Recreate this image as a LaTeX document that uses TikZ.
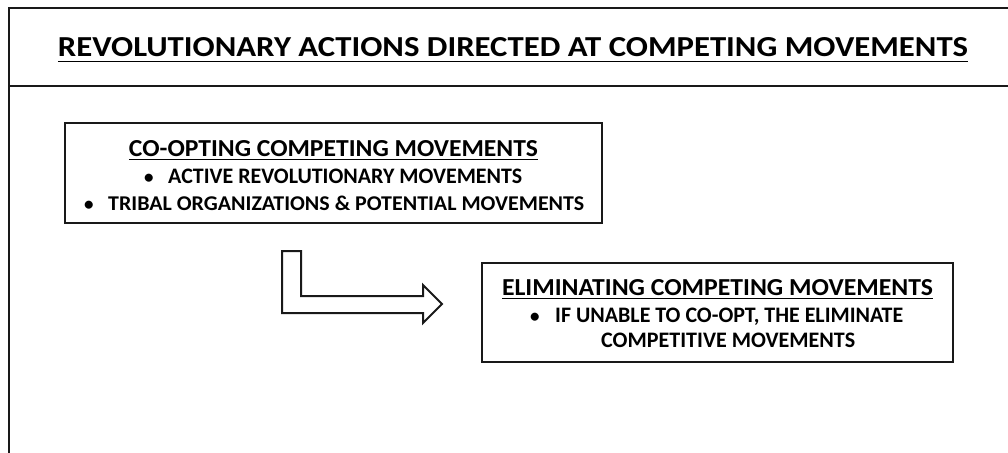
\documentclass[tikz,border=0pt]{standalone}
\usepackage{fontspec}
\setmainfont{Carlito}
\usepackage{graphicx}
\newcommand\fitwh[3]{\resizebox{#1pt}{#2pt}{#3}}
\tikzset{
  frameline/.style={line width=2pt, draw=black!90},
  boxnode/.style={draw=black!90, line width=2pt, inner sep=0pt},
  txt/.style={anchor=base, inner sep=0pt, font=\bfseries},
  bul/.style={anchor=base west, inner sep=0pt, font=\bfseries\fontsize{19}{19}\selectfont},
  blockarrow/.style={draw=black!90, line width=2pt, line join=miter, fill=white},
}
\begin{document}
\begin{tikzpicture}[x=1pt, y=-1pt]
\useasboundingbox (0,0) rectangle (1008,452);
% outer frame
\coordinate (ftl) at (9,8);
\coordinate (ftr) at (1010,8);
\coordinate (fbl) at (9,454);
\coordinate (sl) at (9,86);
\coordinate (sr) at (1010,86);
\draw[frameline] (fbl) -- (ftl) -- (ftr);
\draw[frameline] (sl) -- (sr);
% main title
\node[txt] (title) at (513,57) {\fitwh{910}{19}{\underline{REVOLUTIONARY ACTIONS DIRECTED AT COMPETING MOVEMENTS}}};
% box 1
\node[boxnode, minimum width=537pt, minimum height=100pt] (b1) at (333.5,173) {};
\node[txt] (b1t) at (333.5,156) {\fitwh{409}{16}{\underline{CO-OPTING COMPETING MOVEMENTS}}};
\node[bul] (b1b1) at (144,183) {\textbullet};
\node[txt, anchor=base west] (b1l1) at (168,183) {\fitwh{354}{14.5}{ACTIVE REVOLUTIONARY MOVEMENTS}};
\node[bul] (b1b2) at (84,210) {\textbullet};
\node[txt, anchor=base west] (b1l2) at (108,210) {\fitwh{476}{14.5}{TRIBAL ORGANIZATIONS \& POTENTIAL MOVEMENTS}};
% bent block arrow
\draw[blockarrow] (282,251) -- (301,251) -- (301,296) -- (423,296) -- (423,285)
  -- (442,304) -- (423,323) -- (423,313) -- (282,313) -- cycle;
% box 2
\node[boxnode, minimum width=471pt, minimum height=99pt] (b2) at (717.5,312.5) {};
\node[txt] (b2t) at (717.5,295) {\fitwh{431}{16}{\underline{ELIMINATING COMPETING MOVEMENTS}}};
\node[bul] (b2b1) at (530,322) {\textbullet};
\node[txt, anchor=base west] (b2l1) at (555,322) {\fitwh{348}{14.5}{IF UNABLE TO CO-OPT, THE ELIMINATE}};
\node[txt, anchor=base west] (b2l2) at (601,347) {\fitwh{254}{14.5}{COMPETITIVE MOVEMENTS}};
\end{tikzpicture}
\end{document}
